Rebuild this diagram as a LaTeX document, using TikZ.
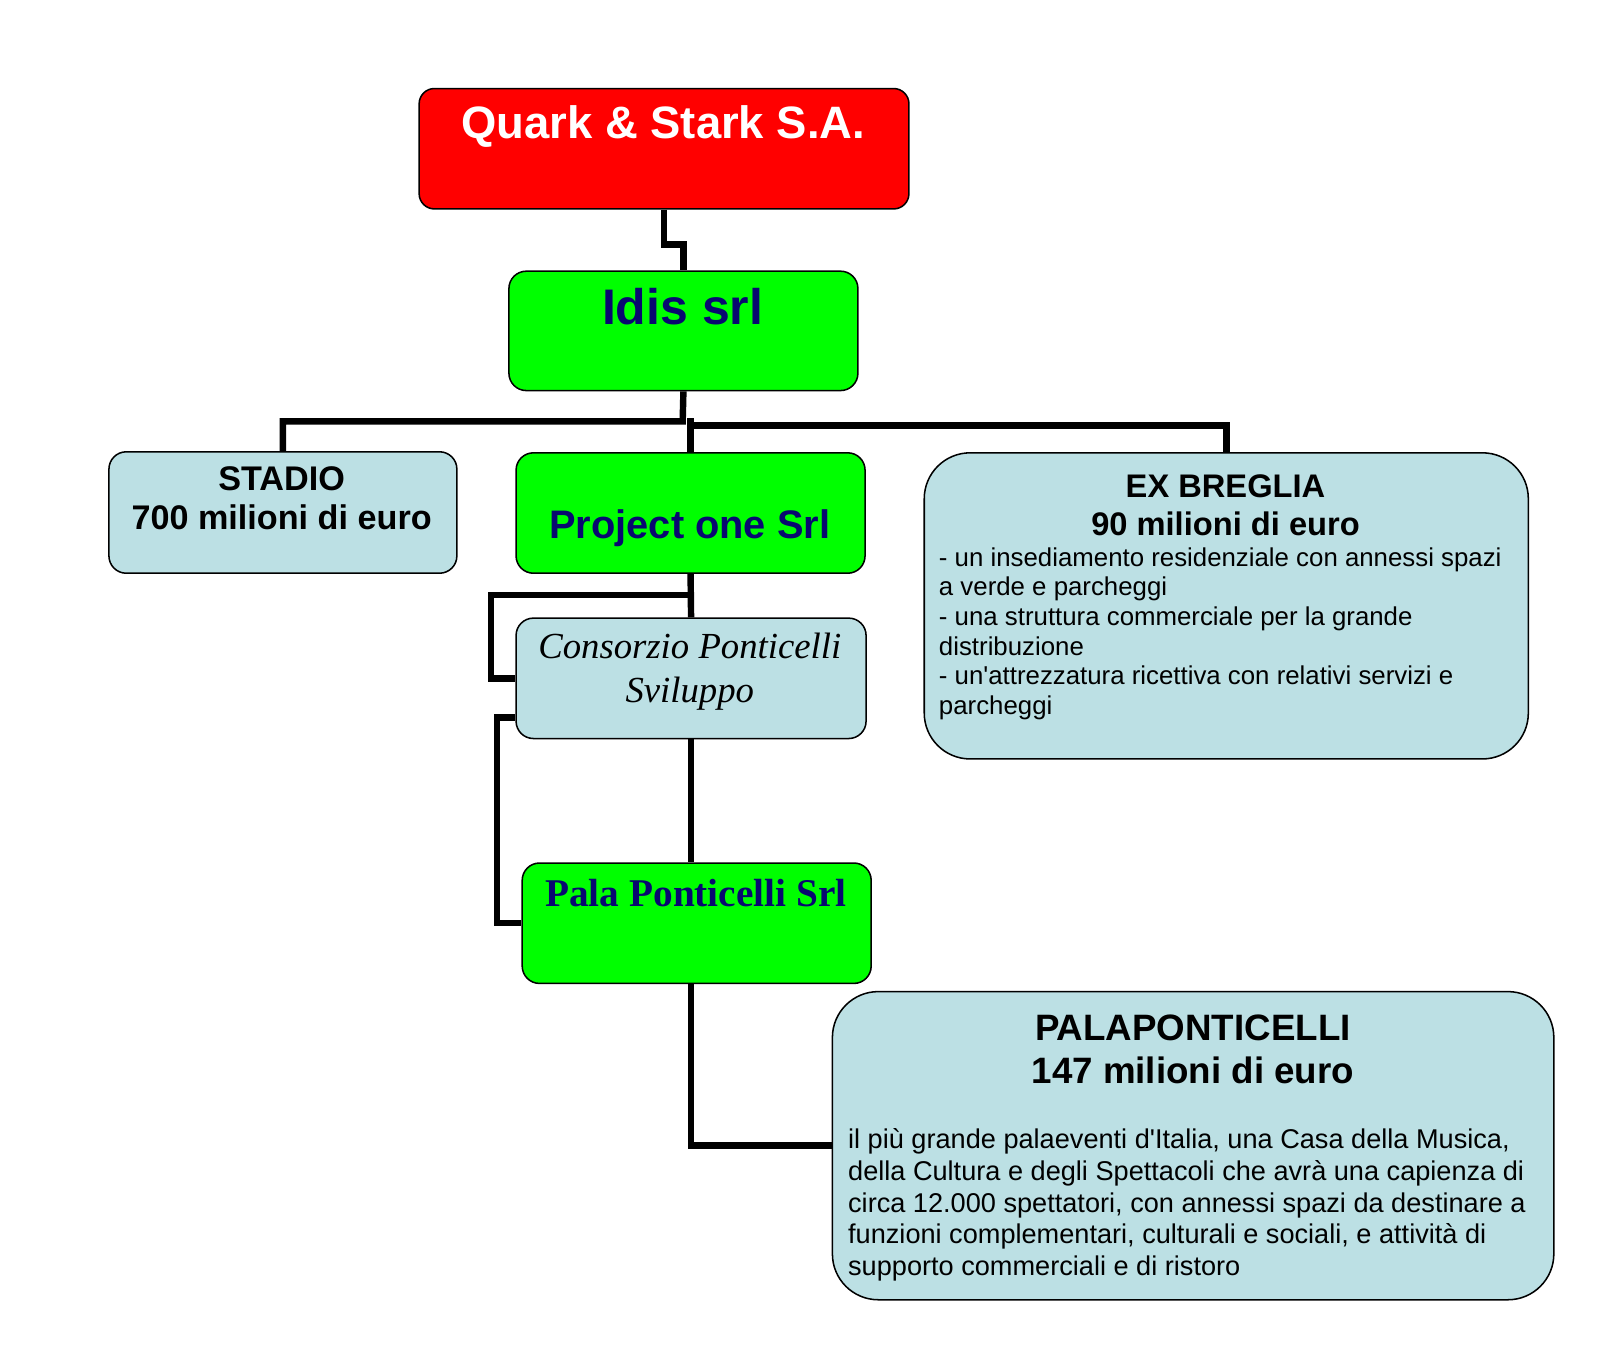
\documentclass[tikz,border=0pt]{standalone}
\usepackage{fontspec}
\setmainfont{Liberation Sans}[Ligatures=TeXOff]
\newfontfamily\tms{Liberation Serif}
\usetikzlibrary{backgrounds}
\definecolor{lblue}{RGB}{188,224,228}
\definecolor{navy}{RGB}{8,8,112}
\definecolor{brightgreen}{RGB}{0,255,0}
\begin{document}
\begin{tikzpicture}[x=1pt,y=-1pt,
  box/.style={draw=black, line width=1.5pt, rounded corners=17pt, inner sep=0pt, anchor=north west},
  bigbox/.style={box, rounded corners=45pt},
  conn/.style={line width=6.3pt, black, line join=miter},
  txt/.style={inner sep=0pt, anchor=base},
  ltxt/.style={inner sep=0pt, anchor=base west}]
\useasboundingbox (0,0) rectangle (1568,1323);

% boxes
\node[box, fill=red, minimum width=480pt, minimum height=118pt, rounded corners=15pt] (quark) at (410,86) {};
\node[box, fill=brightgreen, minimum width=342pt, minimum height=117pt] (idis) at (498,265) {};
\node[box, fill=lblue, minimum width=341pt, minimum height=119pt] (stadio) at (106,442) {};
\node[box, fill=brightgreen, minimum width=342pt, minimum height=118pt] (project) at (505,443) {};
\node[bigbox, fill=lblue, minimum width=592pt, minimum height=300pt] (breglia) at (905,443) {};
\node[box, fill=lblue, minimum width=343pt, minimum height=118pt] (consorzio) at (505,605) {};
\node[box, fill=brightgreen, minimum width=342pt, minimum height=118pt] (pala) at (511,845) {};
\node[bigbox, fill=lblue, minimum width=707pt, minimum height=302pt] (palap) at (815,971) {};

% texts
\node[txt, text=white, font=\bfseries\fontsize{44.5}{50}\selectfont] (tq) at (650,136) {Quark \& Stark S.A.};
\node[txt, text=navy, font=\bfseries\fontsize{49}{54}\selectfont] (ti) at (669,318) {Idis srl};
\node[txt, font=\bfseries\fontsize{33.5}{38}\selectfont] (ts1) at (276,481) {STADIO};
\node[txt, font=\bfseries\fontsize{33.5}{38}\selectfont] (ts2) at (276,519) {700 milioni di euro};
\node[txt, text=navy, font=\bfseries\fontsize{39}{44}\selectfont] (tp) at (676,528) {Project one Srl};
\node[txt, font=\tms\itshape\fontsize{36}{42}\selectfont] (tc1) at (676,645) {Consorzio Ponticelli};
\node[txt, font=\tms\itshape\fontsize{36}{42}\selectfont] (tc2) at (676,688) {Sviluppo};
\node[txt, text=navy, font=\tms\bfseries\fontsize{38.5}{44}\selectfont] (tpl) at (682,888) {Pala Ponticelli Srl};
\node[txt, font=\bfseries\fontsize{32}{37}\selectfont] (tb1) at (1201,488) {EX BREGLIA};
\node[txt, font=\bfseries\fontsize{32}{37}\selectfont] (tb2) at (1201,525) {90 milioni di euro};
\foreach \t [count=\i] in {{- un insediamento residenziale con annessi spazi},{a verde e parcheggi},{- una struttura commerciale per la grande},{distribuzione},{- un'attrezzatura ricettiva con relativi servizi e},{parcheggi}}
  \node[ltxt, font=\fontsize{25.3}{29}\selectfont] (eb\i) at (920,{555+29*(\i-1)}) {\t};
\node[txt, font=\bfseries\fontsize{36}{41}\selectfont] (tpp1) at (1169,1020) {PALAPONTICELLI};
\node[txt, font=\bfseries\fontsize{36}{41}\selectfont] (tpp2) at (1169,1062) {147 milioni di euro};
\foreach \t [count=\i] in {{il più grande palaeventi d'Italia, una Casa della Musica,},{della Cultura e degli Spettacoli che avrà una capienza di},{circa 12.000 spettatori, con annessi spazi da destinare a},{funzioni complementari, culturali e sociali, e attività di},{supporto commerciali e di ristoro}}
  \node[ltxt, font=\fontsize{26.6}{31}\selectfont] (pp\i) at (831,{1126+31*(\i-1)}) {\t};

% junction coordinates
\coordinate (j1) at (669,413);
\coordinate (j2) at (676,417);
\coordinate (c1) at (676,583);
\coordinate (c2) at (505,703);

\begin{scope}[on background layer]
\fill[white] (0,0) rectangle (1568,1323);
\draw[conn] (quark.south) -- ++(0,34) -| (idis.north);
\draw[conn] (idis.south) -- (j1) -| (stadio.north);
\draw[conn] (project.north) -- ++(0,-33);
\draw[conn] (j2) -| (breglia.north);
\draw[conn] (project.south) -- (consorzio.north);
\draw[conn] (c1) -- ++(-195,0) |- (consorzio.west);
\draw[conn] (c2) -- ++(-18,0) |- (pala.west);
\draw[conn] (consorzio.south) -- (consorzio.south |- pala.north);
\draw[conn] (consorzio.south |- pala.south) |- (palap.west);
\end{scope}
\end{tikzpicture}
\end{document}
